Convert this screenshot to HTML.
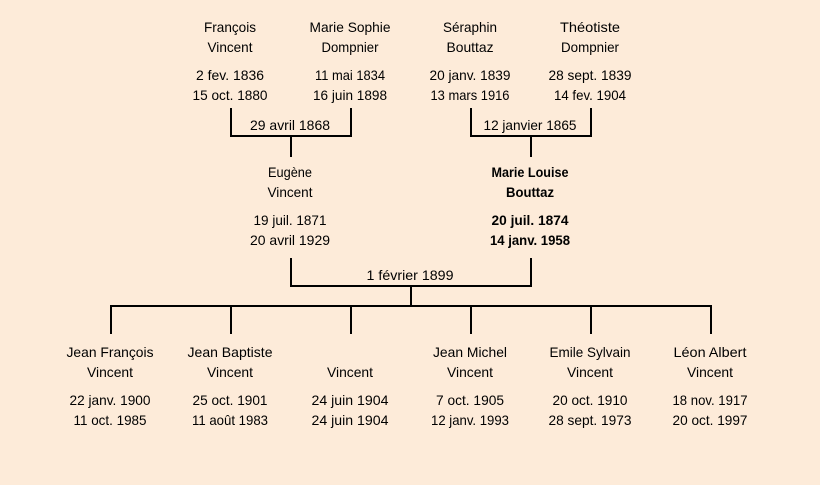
<!DOCTYPE html>
<html lang="fr">
<head>
<meta charset="utf-8">
<title>Arbre généalogique</title>
<style>
html,body{margin:0;padding:0;background:#fdebd9;}
svg{display:block;}
text{font-family:"Liberation Sans",sans-serif;font-size:14px;fill:#000;text-anchor:middle;}
.b{font-weight:bold;}
</style>
</head>
<body>
<svg width="820" height="485" viewBox="0 0 820 485" xmlns="http://www.w3.org/2000/svg">
<rect width="820" height="485" fill="#fdebd9"/>
<g fill="none" stroke="#000" stroke-width="2">
<path d="M231 108V136H351V108M291 136V157"/>
<path d="M471 108V136H591V108M531 136V157"/>
<path d="M291 258V286H531V258M411 286V306"/>
<path d="M110 306H712M111 306V334M231 306V334M351 306V334M471 306V334M591 306V334M711 306V334"/>
</g>
<g lengthAdjust="spacingAndGlyphs">
<text x="230" y="32" textLength="52" lengthAdjust="spacingAndGlyphs">François</text>
<text x="230" y="52" textLength="45" lengthAdjust="spacingAndGlyphs">Vincent</text>
<text x="230" y="80" textLength="68" lengthAdjust="spacingAndGlyphs">2 fev. 1836</text>
<text x="230" y="100" textLength="75" lengthAdjust="spacingAndGlyphs">15 oct. 1880</text>
<text x="350" y="32" textLength="81" lengthAdjust="spacingAndGlyphs">Marie Sophie</text>
<text x="350" y="52" textLength="57" lengthAdjust="spacingAndGlyphs">Dompnier</text>
<text x="350" y="80" textLength="70" lengthAdjust="spacingAndGlyphs">11 mai 1834</text>
<text x="350" y="100" textLength="74" lengthAdjust="spacingAndGlyphs">16 juin 1898</text>
<text x="470" y="32" textLength="54" lengthAdjust="spacingAndGlyphs">Séraphin</text>
<text x="470" y="52" textLength="47" lengthAdjust="spacingAndGlyphs">Bouttaz</text>
<text x="470" y="80" textLength="81" lengthAdjust="spacingAndGlyphs">20 janv. 1839</text>
<text x="470" y="100" textLength="79" lengthAdjust="spacingAndGlyphs">13 mars 1916</text>
<text x="590" y="32" textLength="60" lengthAdjust="spacingAndGlyphs">Théotiste</text>
<text x="590" y="52" textLength="58" lengthAdjust="spacingAndGlyphs">Dompnier</text>
<text x="590" y="80" textLength="83" lengthAdjust="spacingAndGlyphs">28 sept. 1839</text>
<text x="590" y="100" textLength="72" lengthAdjust="spacingAndGlyphs">14 fev. 1904</text>
<text x="290" y="130" textLength="80" lengthAdjust="spacingAndGlyphs">29 avril 1868</text>
<text x="530" y="130" textLength="93" lengthAdjust="spacingAndGlyphs">12 janvier 1865</text>
<text x="290" y="177" textLength="44" lengthAdjust="spacingAndGlyphs">Eugène</text>
<text x="290" y="197" textLength="45" lengthAdjust="spacingAndGlyphs">Vincent</text>
<text x="290" y="225" textLength="73" lengthAdjust="spacingAndGlyphs">19 juil. 1871</text>
<text x="290" y="245" textLength="80" lengthAdjust="spacingAndGlyphs">20 avril 1929</text>
<text class="b" x="530" y="177" textLength="77" lengthAdjust="spacingAndGlyphs">Marie Louise</text>
<text class="b" x="530" y="197" textLength="48" lengthAdjust="spacingAndGlyphs">Bouttaz</text>
<text class="b" x="530" y="225" textLength="77" lengthAdjust="spacingAndGlyphs">20 juil. 1874</text>
<text class="b" x="530" y="245" textLength="80" lengthAdjust="spacingAndGlyphs">14 janv. 1958</text>
<text x="410" y="280" textLength="87" lengthAdjust="spacingAndGlyphs">1 février 1899</text>
<text x="110" y="357" textLength="87" lengthAdjust="spacingAndGlyphs">Jean François</text>
<text x="110" y="377" textLength="46" lengthAdjust="spacingAndGlyphs">Vincent</text>
<text x="110" y="405" textLength="81" lengthAdjust="spacingAndGlyphs">22 janv. 1900</text>
<text x="110" y="425" textLength="73" lengthAdjust="spacingAndGlyphs">11 oct. 1985</text>
<text x="230" y="357" textLength="85" lengthAdjust="spacingAndGlyphs">Jean Baptiste</text>
<text x="230" y="377" textLength="46" lengthAdjust="spacingAndGlyphs">Vincent</text>
<text x="230" y="405" textLength="75" lengthAdjust="spacingAndGlyphs">25 oct. 1901</text>
<text x="230" y="425" textLength="76" lengthAdjust="spacingAndGlyphs">11 août 1983</text>
<text x="350" y="377" textLength="46" lengthAdjust="spacingAndGlyphs">Vincent</text>
<text x="350" y="405" textLength="77" lengthAdjust="spacingAndGlyphs">24 juin 1904</text>
<text x="350" y="425" textLength="77" lengthAdjust="spacingAndGlyphs">24 juin 1904</text>
<text x="470" y="357" textLength="74" lengthAdjust="spacingAndGlyphs">Jean Michel</text>
<text x="470" y="377" textLength="46" lengthAdjust="spacingAndGlyphs">Vincent</text>
<text x="470" y="405" textLength="68" lengthAdjust="spacingAndGlyphs">7 oct. 1905</text>
<text x="470" y="425" textLength="78" lengthAdjust="spacingAndGlyphs">12 janv. 1993</text>
<text x="590" y="357" textLength="81" lengthAdjust="spacingAndGlyphs">Emile Sylvain</text>
<text x="590" y="377" textLength="46" lengthAdjust="spacingAndGlyphs">Vincent</text>
<text x="590" y="405" textLength="75" lengthAdjust="spacingAndGlyphs">20 oct. 1910</text>
<text x="590" y="425" textLength="83" lengthAdjust="spacingAndGlyphs">28 sept. 1973</text>
<text x="710" y="357" textLength="73" lengthAdjust="spacingAndGlyphs">Léon Albert</text>
<text x="710" y="377" textLength="46" lengthAdjust="spacingAndGlyphs">Vincent</text>
<text x="710" y="405" textLength="75" lengthAdjust="spacingAndGlyphs">18 nov. 1917</text>
<text x="710" y="425" textLength="75" lengthAdjust="spacingAndGlyphs">20 oct. 1997</text>
</g>
</svg>
</body>
</html>
